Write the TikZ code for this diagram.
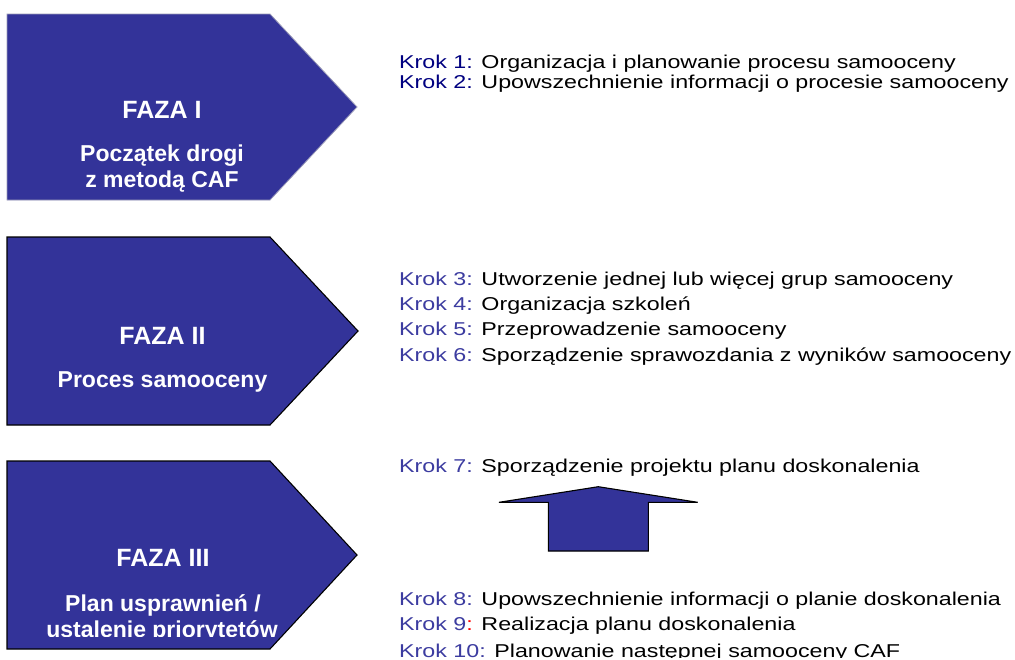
\documentclass[tikz,border=0pt]{standalone}
\usepackage{fontspec}
\setmainfont{Liberation Sans}
\newfontfamily\kfont[FakeStretch=1.25]{Liberation Sans}
\definecolor{faza}{HTML}{333399}
\definecolor{navyk}{HTML}{000080}
\definecolor{kblue}{HTML}{3C3CA0}
\definecolor{lightedge}{HTML}{9A9AB8}
\begin{document}
\begin{tikzpicture}[x=1pt,y=-1pt,
  phase/.style={fill=faza,draw=black,line width=1.1pt,line join=miter},
  ftitle/.style={anchor=base,inner sep=0pt,text=white,font=\fontsize{25}{28}\selectfont\bfseries},
  fsub/.style={anchor=base,inner sep=0pt,text=white,font=\fontsize{23}{26}\selectfont\bfseries},
  krok/.style={anchor=base west,inner sep=0pt,text=black,font=\kfont\fontsize{18.6}{20}\selectfont},
  bigarrow/.style={fill=faza,draw=black,line width=1.1pt,line join=miter}]
\useasboundingbox (0,0) rectangle (1015,659);
\clip (0,0) rectangle (1015,659);
\fill[white] (0,0) rectangle (1015,659);
% phase shapes
\path[phase,draw=lightedge,line width=0.8pt] (7,14) -- (270,14) -- (357,107) -- (270,200) -- (7,200) -- cycle;
\path[phase] (7,237) -- (270,237) -- (358,331) -- (270,425) -- (7,425) -- cycle;
\path[phase] (7,461) -- (270,461) -- (357,555) -- (270,649) -- (7,649) -- cycle;
% phase texts
\node[ftitle] (f1t) at (162,118.3) {FAZA I};
\node[fsub] (f1a) at (162,161.7) {Początek drogi};
\node[fsub] (f1b) at (162,187.7) {z metodą CAF};
\node[ftitle] (f2t) at (162.5,344) {FAZA II};
\node[fsub] (f2a) at (162.5,387.7) {Proces samooceny};
\node[ftitle] (f3t) at (163,566.7) {FAZA III};
\begin{scope}
\clip (7,461) rectangle (357,636.5);
\node[fsub] (f3a) at (163,611) {Plan usprawnień /};
\node[fsub] (f3b) at (162,637.5) {ustalenie priorytetów};
\end{scope}
% step texts
\node[krok] (k1) at (399,68.3) {{\color{navyk}Krok 1:} Organizacja i planowanie procesu samooceny};
\node[krok] (k2) at (399,88.3) {{\color{navyk}Krok 2:} Upowszechnienie informacji o procesie samooceny};
\node[krok] (k3) at (399,285) {{\color{kblue}Krok 3:} Utworzenie jednej lub więcej grup samooceny};
\node[krok] (k4) at (399,310.7) {{\color{kblue}Krok 4:} Organizacja szkoleń};
\node[krok] (k5) at (399,335.7) {{\color{kblue}Krok 5:} Przeprowadzenie samooceny};
\node[krok] (k6) at (399,361.7) {{\color{kblue}Krok 6:} Sporządzenie sprawozdania z wyników samooceny};
\node[krok] (k7) at (399,472.7) {{\color{kblue}Krok 7:} Sporządzenie projektu planu doskonalenia};
\node[krok] (k8) at (399,605.7) {{\color{kblue}Krok 8:} Upowszechnienie informacji o planie doskonalenia};
\node[krok] (k9) at (399,630.7) {{\color{kblue}Krok 9}{\color{red}:} Realizacja planu doskonalenia};
\begin{scope}
\clip (380,640) rectangle (1015,657.5);
\node[krok] (k10) at (399,657.5) {{\color{kblue}Krok 10:} Planowanie następnej samooceny CAF};
\end{scope}
% up arrow
\path[bigarrow] (598.3,486.7) -- (697.7,502.3) -- (648.3,502.3) -- (648.3,551) -- (548.3,551) -- (548.3,502.3) -- (499,502.3) -- cycle;
\end{tikzpicture}
\end{document}
